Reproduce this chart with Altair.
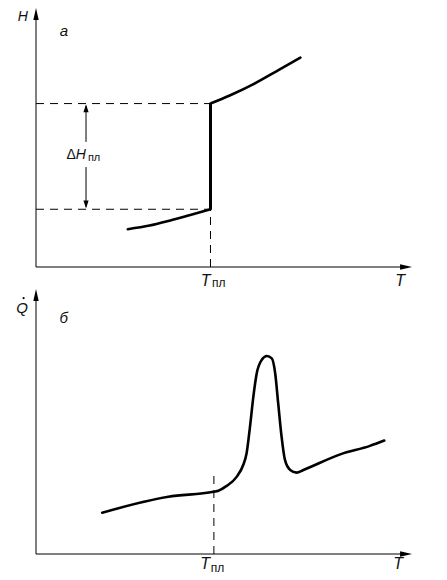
import altair as alt
import pandas as pd

# ---------------- data (arbitrary units: T and H/Q axes run 0..100) ----------------
# panel "а": enthalpy H vs temperature T
solid_T = [24.4, 30.2, 35.5, 40.8, 46.4]
solid_H = [14.6, 16.0, 17.9, 20.0, 22.3]
liquid_T = [46.4, 51.5, 58.1, 64.7, 70.3]
liquid_H = [63.1, 66.2, 70.8, 76.2, 80.8]
T_melt_a = 46.4
dH_arrow_T = 13.3

# panel "б": heat flow Q̇ vs temperature T
q_T = [17.6, 35.2, 47.2, 48.5, 50.7, 53.4, 55.1, 56.0, 56.9, 57.8, 58.7, 60.0,
       61.4, 62.7, 63.6, 64.4, 65.3, 66.2, 67.6, 69.3, 71.1, 80.9, 88.8, 92.6]
q_Q = [15.6, 21.6, 23.5, 23.9, 25.7, 29.2, 33.6, 38.0, 48.0, 59.4, 68.2, 73.2,
       74.7, 73.8, 68.2, 56.9, 44.3, 35.5, 31.7, 30.7, 31.7, 37.6, 40.8, 42.8]
T_melt_b = 47.3
Q_at_melt = 30.6

FONT = "Liberation Sans"
PW = 430
X_DOM = [-7.45, 106.9]


def xs(field="t"):
    return alt.X(f"{field}:Q", scale=alt.Scale(domain=X_DOM, nice=False, zero=False), axis=None)


def ys(dom, field="v"):
    return alt.Y(f"{field}:Q", scale=alt.Scale(domain=dom, nice=False, zero=False), axis=None)


UP = "M0,0L0.45,2L-0.45,2Z"
RIGHT = "M0,0L-2,-0.45L-2,0.45Z"
UP_S = "M0,0L0.65,2L-0.65,2Z"
DOWN_S = "M0,0L0.65,-2L-0.65,-2Z"


def rules(df, dom, width=1.0, dash=None):
    kw = dict(color="black", strokeWidth=width)
    if dash:
        kw["strokeDash"] = dash
    return alt.Chart(df).mark_rule(**kw).encode(
        x=xs("t"), x2="t2:Q", y=ys(dom, "v"), y2="v2:Q")


def heads(df, dom, shape, size):
    return alt.Chart(df).mark_point(shape=shape, size=size, filled=True, color="black",
                                    opacity=1, strokeWidth=0).encode(x=xs(), y=ys(dom))


def label(df, dom, size, italic=True, align="center", baseline="middle"):
    kw = dict(font=FONT, fontSize=size, align=align, baseline=baseline, color="#111")
    if italic:
        kw["fontStyle"] = "italic"
    return alt.Chart(df).mark_text(**kw).encode(x=xs(), y=ys(dom), text="s:N")


# ---------------- panel а ----------------
DA = [-8.49, 100.0]
curves_a = pd.DataFrame({
    "t": solid_T + liquid_T,
    "v": solid_H + liquid_H,
    "seg": ["s"] * len(solid_T) + ["l"] * len(liquid_T),
})
H_lo, H_hi = solid_H[-1], liquid_H[0]

axes_a = pd.DataFrame({"t": [0, 0], "t2": [0, 97], "v": [0, 0], "v2": [96, 0]})
dash_a = pd.DataFrame({
    "t": [0, 0, T_melt_a], "t2": [T_melt_a, T_melt_a, T_melt_a],
    "v": [H_hi, H_lo, 0], "v2": [H_hi, H_lo, H_lo]})
jump_a = pd.DataFrame({"t": [T_melt_a], "t2": [T_melt_a], "v": [H_lo], "v2": [H_hi]})
dim_a = pd.DataFrame({"t": [dH_arrow_T, dH_arrow_T], "t2": [dH_arrow_T, dH_arrow_T],
                      "v": [H_hi - 1, 38.6], "v2": [48.3, H_lo + 1]})

top = alt.layer(
    rules(axes_a, DA),
    heads(pd.DataFrame({"t": [0], "v": [100]}), DA, UP, 144),
    heads(pd.DataFrame({"t": [100], "v": [0]}), DA, RIGHT, 144),
    rules(dash_a, DA, 1.0, [8, 6]),
    rules(jump_a, DA, 3.0),
    rules(dim_a, DA, 1.0),
    heads(pd.DataFrame({"t": [dH_arrow_T], "v": [H_hi - 0.3]}), DA, UP_S, 64),
    heads(pd.DataFrame({"t": [dH_arrow_T], "v": [H_lo + 0.3]}), DA, DOWN_S, 64),
    alt.Chart(curves_a).mark_line(interpolate="monotone", color="black", strokeWidth=2.6,
                                  strokeCap="round").encode(x=xs(), y=ys(DA), detail="seg:N"),
    label(pd.DataFrame({"t": [-3.5], "v": [99.2], "s": ["H"]}), DA, 14, baseline="top"),
    label(pd.DataFrame({"t": [7.4], "v": [91.1], "s": ["а"]}), DA, 15),
    label(pd.DataFrame({"t": [10.6], "v": [43.2], "s": ["Δ"]}), DA, 14, False, "right"),
    label(pd.DataFrame({"t": [10.6], "v": [43.2], "s": ["H"]}), DA, 14, True, "left"),
    label(pd.DataFrame({"t": [13.8], "v": [41.9], "s": ["пл"]}), DA, 11, False, "left"),
    label(pd.DataFrame({"t": [T_melt_a], "v": [-7.14], "s": ["T"]}), DA, 16, True, "right",
          "alphabetic"),
    label(pd.DataFrame({"t": [46.8], "v": [-7.53], "s": ["пл"]}), DA, 12, False, "left",
          "alphabetic"),
    label(pd.DataFrame({"t": [96.8], "v": [-7.14], "s": ["T"]}), DA, 16, True, "center",
          "alphabetic"),
).properties(width=PW, height=281)

# ---------------- panel б ----------------
DB = [-7.92, 100.0]
curve_b = pd.DataFrame({"t": q_T, "v": q_Q})
axes_b = pd.DataFrame({"t": [0, 0], "t2": [0, 97], "v": [0, 0], "v2": [96, 0]})
dash_b = pd.DataFrame({"t": [T_melt_b], "t2": [T_melt_b], "v": [0], "v2": [Q_at_melt]})

bottom = alt.layer(
    rules(axes_b, DB),
    heads(pd.DataFrame({"t": [0], "v": [100]}), DB, UP, 144),
    heads(pd.DataFrame({"t": [100], "v": [0]}), DB, RIGHT, 144),
    rules(dash_b, DB, 1.0, [8, 6]),
    alt.Chart(curve_b).mark_line(interpolate="monotone", color="black", strokeWidth=2.6,
                                 strokeCap="round").encode(x=xs(), y=ys(DB)),
    label(pd.DataFrame({"t": [-3.7], "v": [93.0], "s": ["Q"]}), DB, 15),
    alt.Chart(pd.DataFrame({"t": [-3.3], "v": [96.6]})).mark_point(
        shape="circle", size=5, filled=True, color="black", opacity=1).encode(x=xs(), y=ys(DB)),
    label(pd.DataFrame({"t": [7.4], "v": [89.1], "s": ["б"]}), DB, 15),
    label(pd.DataFrame({"t": [46.3], "v": [-3.6], "s": ["T"]}), DB, 16, True, "right"),
    label(pd.DataFrame({"t": [46.5], "v": [-5.3], "s": ["пл"]}), DB, 12, False, "left"),
    label(pd.DataFrame({"t": [96.3], "v": [-3.6], "s": ["T"]}), DB, 16),
).properties(width=PW, height=286)

chart = alt.vconcat(top, bottom, spacing=0, padding=0, background="white").configure_view(
    stroke="transparent", strokeWidth=0)

chart.save("out.html", embed_options={"renderer": "svg", "actions": False})
